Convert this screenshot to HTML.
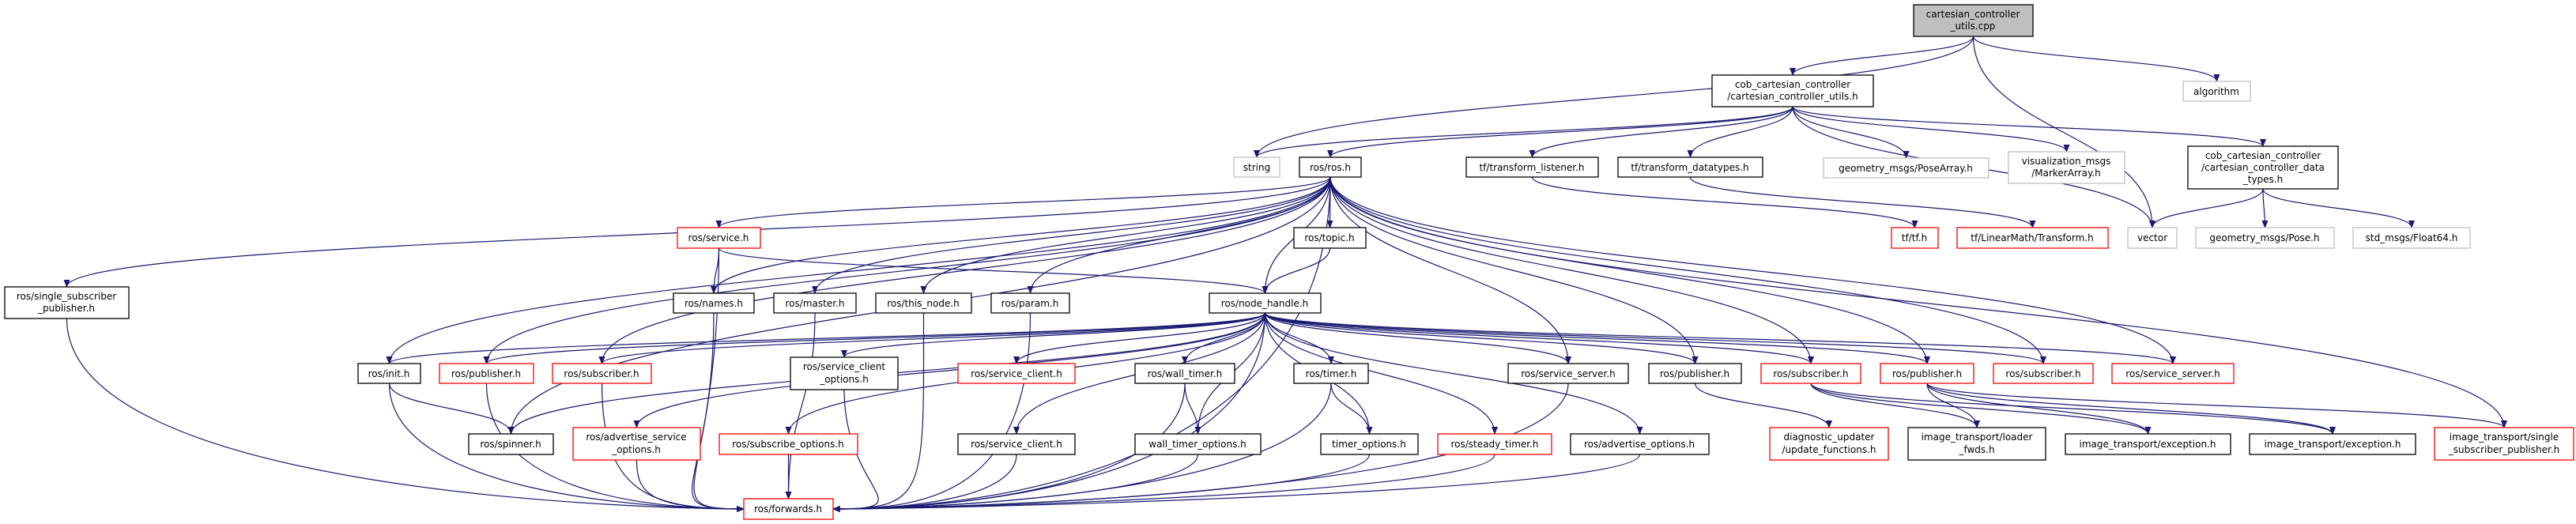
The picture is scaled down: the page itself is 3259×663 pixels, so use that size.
<!DOCTYPE html>
<html><head><meta charset="utf-8"><style>
html,body{margin:0;padding:0;background:#fff;}
svg{display:block;}
text{font-family:"DejaVu Sans","Liberation Sans",sans-serif;font-size:12px;fill:#000;}
</style></head><body>
<svg id="g" width="3259" height="663" viewBox="0 0 3259 663" xmlns="http://www.w3.org/2000/svg">
<defs><marker id="a" markerWidth="10" markerHeight="8" refX="9" refY="4" orient="auto" markerUnits="userSpaceOnUse"><path d="M0,0 L10,4 L0,8 z" fill="#191970"/></marker></defs>
<g id="edges" fill="none" stroke="#191970" stroke-width="1.2"></g>
<g id="nodes" stroke-width="1.3">
<rect x="2421" y="6" width="151" height="40" fill="#bfbfbf" stroke="#000"/><text x="2496" y="22" text-anchor="middle">cartesian_controller</text><text x="2496" y="37" text-anchor="middle">_utils.cpp</text>
<rect x="2166" y="95" width="204" height="40" fill="#fff" stroke="#000"/><text x="2268" y="111" text-anchor="middle">cob_cartesian_controller</text><text x="2268" y="126" text-anchor="middle">/cartesian_controller_utils.h</text>
<rect x="2762" y="103" width="85" height="25" fill="#fff" stroke="#bfbfbf"/><text x="2804" y="120" text-anchor="middle">algorithm</text>
<rect x="1561" y="199" width="58" height="25" fill="#fff" stroke="#bfbfbf"/><text x="1590" y="216" text-anchor="middle">string</text>
<rect x="1644" y="199" width="78" height="25" fill="#fff" stroke="#000"/><text x="1683" y="216" text-anchor="middle">ros/ros.h</text>
<rect x="1855" y="199" width="167" height="25" fill="#fff" stroke="#000"/><text x="1938" y="216" text-anchor="middle">tf/transform_listener.h</text>
<rect x="2047" y="199" width="183" height="25" fill="#fff" stroke="#000"/><text x="2138" y="216" text-anchor="middle">tf/transform_datatypes.h</text>
<rect x="2307" y="200" width="209" height="25" fill="#fff" stroke="#bfbfbf"/><text x="2411" y="217" text-anchor="middle">geometry_msgs/PoseArray.h</text>
<rect x="2541" y="192" width="147" height="40" fill="#fff" stroke="#bfbfbf"/><text x="2614" y="208" text-anchor="middle">visualization_msgs</text><text x="2614" y="223" text-anchor="middle">/MarkerArray.h</text>
<rect x="2768" y="185" width="190" height="54" fill="#fff" stroke="#000"/><text x="2863" y="201" text-anchor="middle">cob_cartesian_controller</text><text x="2863" y="216" text-anchor="middle">/cartesian_controller_data</text><text x="2863" y="231" text-anchor="middle">_types.h</text>
<rect x="857" y="288" width="105" height="26" fill="#fff" stroke="#f00"/><text x="909" y="305" text-anchor="middle">ros/service.h</text>
<rect x="1637" y="288" width="91" height="26" fill="#fff" stroke="#000"/><text x="1682" y="305" text-anchor="middle">ros/topic.h</text>
<rect x="2393" y="288" width="59" height="26" fill="#fff" stroke="#f00"/><text x="2422" y="305" text-anchor="middle">tf/tf.h</text>
<rect x="2476" y="288" width="191" height="26" fill="#fff" stroke="#f00"/><text x="2571" y="305" text-anchor="middle">tf/LinearMath/Transform.h</text>
<rect x="2692" y="288" width="62" height="26" fill="#fff" stroke="#bfbfbf"/><text x="2723" y="305" text-anchor="middle">vector</text>
<rect x="2778" y="288" width="175" height="26" fill="#fff" stroke="#bfbfbf"/><text x="2865" y="305" text-anchor="middle">geometry_msgs/Pose.h</text>
<rect x="2977" y="288" width="148" height="26" fill="#fff" stroke="#bfbfbf"/><text x="3051" y="305" text-anchor="middle">std_msgs/Float64.h</text>
<rect x="6" y="363" width="157" height="40" fill="#fff" stroke="#000"/><text x="84" y="379" text-anchor="middle">ros/single_subscriber</text><text x="84" y="394" text-anchor="middle">_publisher.h</text>
<rect x="852" y="371" width="102" height="25" fill="#fff" stroke="#000"/><text x="903" y="388" text-anchor="middle">ros/names.h</text>
<rect x="979" y="371" width="104" height="25" fill="#fff" stroke="#000"/><text x="1031" y="388" text-anchor="middle">ros/master.h</text>
<rect x="1108" y="371" width="121" height="25" fill="#fff" stroke="#000"/><text x="1168" y="388" text-anchor="middle">ros/this_node.h</text>
<rect x="1254" y="371" width="99" height="25" fill="#fff" stroke="#000"/><text x="1303" y="388" text-anchor="middle">ros/param.h</text>
<rect x="1530" y="371" width="141" height="25" fill="#fff" stroke="#000"/><text x="1600" y="388" text-anchor="middle">ros/node_handle.h</text>
<rect x="453" y="460" width="79" height="25" fill="#fff" stroke="#000"/><text x="492" y="477" text-anchor="middle">ros/init.h</text>
<rect x="556" y="460" width="119" height="25" fill="#fff" stroke="#f00"/><text x="615" y="477" text-anchor="middle">ros/publisher.h</text>
<rect x="699" y="460" width="125" height="25" fill="#fff" stroke="#f00"/><text x="761" y="477" text-anchor="middle">ros/subscriber.h</text>
<rect x="1000" y="452" width="136" height="41" fill="#fff" stroke="#000"/><text x="1068" y="468" text-anchor="middle">ros/service_client</text><text x="1068" y="484" text-anchor="middle">_options.h</text>
<rect x="1212" y="460" width="148" height="25" fill="#fff" stroke="#f00"/><text x="1286" y="477" text-anchor="middle">ros/service_client.h</text>
<rect x="1436" y="460" width="126" height="25" fill="#fff" stroke="#000"/><text x="1499" y="477" text-anchor="middle">ros/wall_timer.h</text>
<rect x="1637" y="460" width="94" height="25" fill="#fff" stroke="#000"/><text x="1684" y="477" text-anchor="middle">ros/timer.h</text>
<rect x="1908" y="460" width="152" height="25" fill="#fff" stroke="#000"/><text x="1984" y="477" text-anchor="middle">ros/service_server.h</text>
<rect x="2086" y="460" width="117" height="25" fill="#fff" stroke="#000"/><text x="2144" y="477" text-anchor="middle">ros/publisher.h</text>
<rect x="2228" y="460" width="126" height="25" fill="#fff" stroke="#f00"/><text x="2291" y="477" text-anchor="middle">ros/subscriber.h</text>
<rect x="2379" y="460" width="118" height="25" fill="#fff" stroke="#f00"/><text x="2438" y="477" text-anchor="middle">ros/publisher.h</text>
<rect x="2522" y="460" width="126" height="25" fill="#fff" stroke="#f00"/><text x="2585" y="477" text-anchor="middle">ros/subscriber.h</text>
<rect x="2672" y="460" width="154" height="25" fill="#fff" stroke="#f00"/><text x="2749" y="477" text-anchor="middle">ros/service_server.h</text>
<rect x="593" y="549" width="107" height="26" fill="#fff" stroke="#000"/><text x="646" y="566" text-anchor="middle">ros/spinner.h</text>
<rect x="725" y="541" width="161" height="41" fill="#fff" stroke="#f00"/><text x="805" y="557" text-anchor="middle">ros/advertise_service</text><text x="805" y="573" text-anchor="middle">_options.h</text>
<rect x="910" y="549" width="175" height="26" fill="#fff" stroke="#f00"/><text x="997" y="566" text-anchor="middle">ros/subscribe_options.h</text>
<rect x="1212" y="549" width="148" height="26" fill="#fff" stroke="#000"/><text x="1286" y="566" text-anchor="middle">ros/service_client.h</text>
<rect x="1436" y="549" width="159" height="26" fill="#fff" stroke="#000"/><text x="1515" y="566" text-anchor="middle">wall_timer_options.h</text>
<rect x="1671" y="549" width="123" height="26" fill="#fff" stroke="#000"/><text x="1732" y="566" text-anchor="middle">timer_options.h</text>
<rect x="1819" y="549" width="144" height="26" fill="#fff" stroke="#f00"/><text x="1891" y="566" text-anchor="middle">ros/steady_timer.h</text>
<rect x="1987" y="549" width="175" height="26" fill="#fff" stroke="#000"/><text x="2074" y="566" text-anchor="middle">ros/advertise_options.h</text>
<rect x="2239" y="541" width="150" height="41" fill="#fff" stroke="#f00"/><text x="2314" y="557" text-anchor="middle">diagnostic_updater</text><text x="2314" y="573" text-anchor="middle">/update_functions.h</text>
<rect x="2414" y="541" width="174" height="41" fill="#fff" stroke="#000"/><text x="2501" y="557" text-anchor="middle">image_transport/loader</text><text x="2501" y="573" text-anchor="middle">_fwds.h</text>
<rect x="2613" y="549" width="209" height="26" fill="#fff" stroke="#000"/><text x="2717" y="566" text-anchor="middle">image_transport/exception.h</text>
<rect x="2846" y="549" width="210" height="26" fill="#fff" stroke="#000"/><text x="2951" y="566" text-anchor="middle">image_transport/exception.h</text>
<rect x="3080" y="541" width="176" height="41" fill="#fff" stroke="#f00"/><text x="3168" y="557" text-anchor="middle">image_transport/single</text><text x="3168" y="573" text-anchor="middle">_subscriber_publisher.h</text>
<rect x="941" y="631" width="113" height="26" fill="#fff" stroke="#f00"/><text x="997" y="648" text-anchor="middle">ros/forwards.h</text>
</g>
</svg>
<script>
var N={cpp:[2421,6,2572,46],utils:[2166,95,2370,135],alg:[2762,103,2847,128],string:[1561,199,1619,224],ros:[1644,199,1722,224],tl:[1855,199,2022,224],td:[2047,199,2230,224],pa:[2307,200,2516,225],viz:[2541,192,2688,232],dt:[2768,185,2958,239],service:[857,288,962,314],topic:[1637,288,1728,314],tf:[2393,288,2452,314],lmt:[2476,288,2667,314],vector:[2692,288,2754,314],pose:[2778,288,2953,314],f64:[2977,288,3125,314],ssp:[6,363,163,403],names:[852,371,954,396],master:[979,371,1083,396],thisnode:[1108,371,1229,396],param:[1254,371,1353,396],nh:[1530,371,1671,396],init:[453,460,532,485],pubr:[556,460,675,485],subr:[699,460,824,485],sco:[1000,452,1136,493],scr:[1212,460,1360,485],wt:[1436,460,1562,485],timer:[1637,460,1731,485],ss:[1908,460,2060,485],pub:[2086,460,2203,485],sub2:[2228,460,2354,485],pub2:[2379,460,2497,485],sub3:[2522,460,2648,485],ss2:[2672,460,2826,485],spinner:[593,549,700,575],aso:[725,541,886,582],so:[910,549,1085,575],scb:[1212,549,1360,575],wto:[1436,549,1595,575],to:[1671,549,1794,575],st:[1819,549,1963,575],ao:[1987,549,2162,575],diag:[2239,541,2389,582],lf:[2414,541,2588,582],ex1:[2613,549,2822,575],ex2:[2846,549,3056,575],itssp:[3080,541,3256,582],fwd:[941,631,1054,657]};
var E="cpp>string cpp>utils cpp>vector cpp>alg utils>string utils>ros utils>tl utils>td utils>pa utils>viz utils>dt utils>vector dt>vector dt>pose dt>f64 tl>tf td>lmt ros>service ros>names ros>master ros>thisnode ros>param ros>topic ros>nh ros>init ros>pubr ros>subr ros>spinner ros>fwd ros>ss ros>pub ros>sub2 ros>pub2 ros>sub3 ros>ss2 ros>itssp ros>ssp topic>nh service>names service>nh service>fwd names>fwd master>fwd thisnode>fwd param>fwd nh>fwd nh>init nh>pubr nh>subr nh>spinner nh>sco nh>scr nh>wt nh>timer nh>ss nh>pub nh>sub2 nh>pub2 nh>sub3 nh>ss2 nh>aso nh>so nh>scb nh>wto nh>to nh>st nh>ao init>spinner init>fwd pubr>fwd subr>fwd sco>fwd so>fwd aso>fwd scb>fwd wt>wto wt>fwd timer>to timer>fwd wto>fwd to>fwd st>fwd ao>fwd ss>fwd pub>diag ssp>fwd sub2>lf sub2>ex1 sub2>ex2 pub2>lf pub2>ex1 pub2>ex2 pub2>itssp".split(" ");
var g=document.getElementById("edges"),s="";
E.forEach(function(e){var p=e.split(">"),a=N[p[0]],b=N[p[1]];
var sx=(a[0]+a[2])/2,sy=a[3],tx=(b[0]+b[2])/2,ty=b[1];
if(p[1]=="fwd"){
 if(sx<b[0]){tx=b[0];ty=644;s+='<path d="M'+sx+','+sy+' C'+sx+','+(ty-20)+' '+(tx-120)+','+ty+' '+tx+','+ty+'" marker-end="url(#a)"/>';return;}
 if(sx>b[2]){tx=b[2];ty=644;s+='<path d="M'+sx+','+sy+' C'+sx+','+(ty-20)+' '+(tx+120)+','+ty+' '+tx+','+ty+'" marker-end="url(#a)"/>';return;}
}
var my=(sy+ty)/2;
s+='<path d="M'+sx+','+sy+' C'+sx+','+my+' '+tx+','+my+' '+tx+','+ty+'" marker-end="url(#a)"/>';});
g.innerHTML=s;
</script>
</body></html>
